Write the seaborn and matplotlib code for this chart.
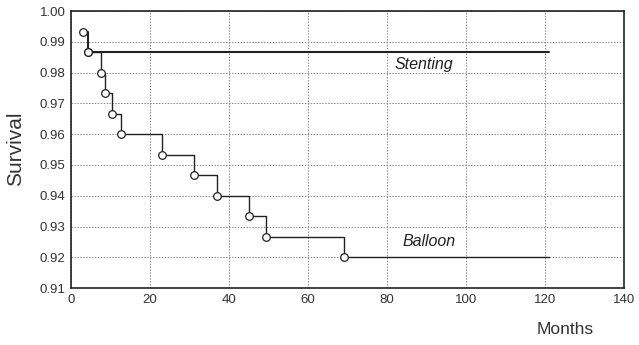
import numpy as np
import pandas as pd
import matplotlib
matplotlib.use("Agg")
from matplotlib import pyplot as plt
import seaborn as sb

# data (months, survival)
stent_months = [3.0, 4.3, 121.0]
stent_surv = [0.9933, 0.9867, 0.9867]
stent_events = 2  # first two points carry a circle

balloon_months = [4.3, 7.7, 8.5, 10.4, 12.8, 23.1, 31.2, 37.1, 45.2, 49.3, 69.1, 121.0]
balloon_surv = [0.9867, 0.9800, 0.9733, 0.9667, 0.9600, 0.9533, 0.9467,
                0.9400, 0.9333, 0.9267, 0.9200, 0.9200]
balloon_events = 11

x_ticks = [0, 20, 40, 60, 80, 100, 120, 140]
y_ticks = [0.91, 0.92, 0.93, 0.94, 0.95, 0.96, 0.97, 0.98, 0.99, 1.00]

sb.set_style("ticks")
plt.rcParams['font.family'] = ['Liberation Sans', 'DejaVu Sans']

df_s = pd.DataFrame({"months": stent_months, "surv": stent_surv})
df_b = pd.DataFrame({"months": balloon_months, "surv": balloon_surv})

fig = plt.figure(figsize=(6.39, 3.45), dpi=100)
ax = fig.add_axes([0.111, 0.165, 0.8655, 0.803])

# step curves
sb.lineplot(x="months", y="surv", data=df_b, ax=ax, color="#222222",
            linewidth=1.0, drawstyle="steps-post", estimator=None, sort=False)
sb.lineplot(x="months", y="surv", data=df_s, ax=ax, color="#222222",
            linewidth=1.5, drawstyle="steps-post", estimator=None, sort=False)

# event circles
ev = pd.concat([df_s.iloc[:stent_events], df_b.iloc[:balloon_events]])
sb.scatterplot(x="months", y="surv", data=ev, ax=ax, s=30, marker="o",
               facecolor="white", edgecolor="#222222", linewidth=0.9, zorder=5)

ax.set_xlim(0, 140)
ax.set_ylim(0.91, 1.00)
ax.set_xticks(x_ticks)
ax.set_yticks(y_ticks)
ax.set_yticklabels(["%.2f" % v for v in y_ticks])
ax.tick_params(length=0, labelsize=9.5, colors="#333333", pad=4)
ax.grid(True, color="#888888", linestyle=(0, (1.5, 1.5)), linewidth=0.7)
for s in ax.spines.values():
    s.set_color("#222222")
    s.set_linewidth(1.2)

ax.set_xlabel("")
ax.set_ylabel("")
fig.text(0.025, 0.57, "Survival", rotation=90, ha="center", va="center", fontsize=15, color="#333333")
fig.text(0.885, 0.045, "Months", ha="center", va="center", fontsize=12.5, color="#333333")

ax.text(89.4, 0.9825, "Stenting", style="italic", fontsize=11.5, ha="center", va="center", color="#222222")
ax.text(90.7, 0.9250, "Balloon", style="italic", fontsize=11.5, ha="center", va="center", color="#222222")

plt.savefig("out.png", dpi=100)
